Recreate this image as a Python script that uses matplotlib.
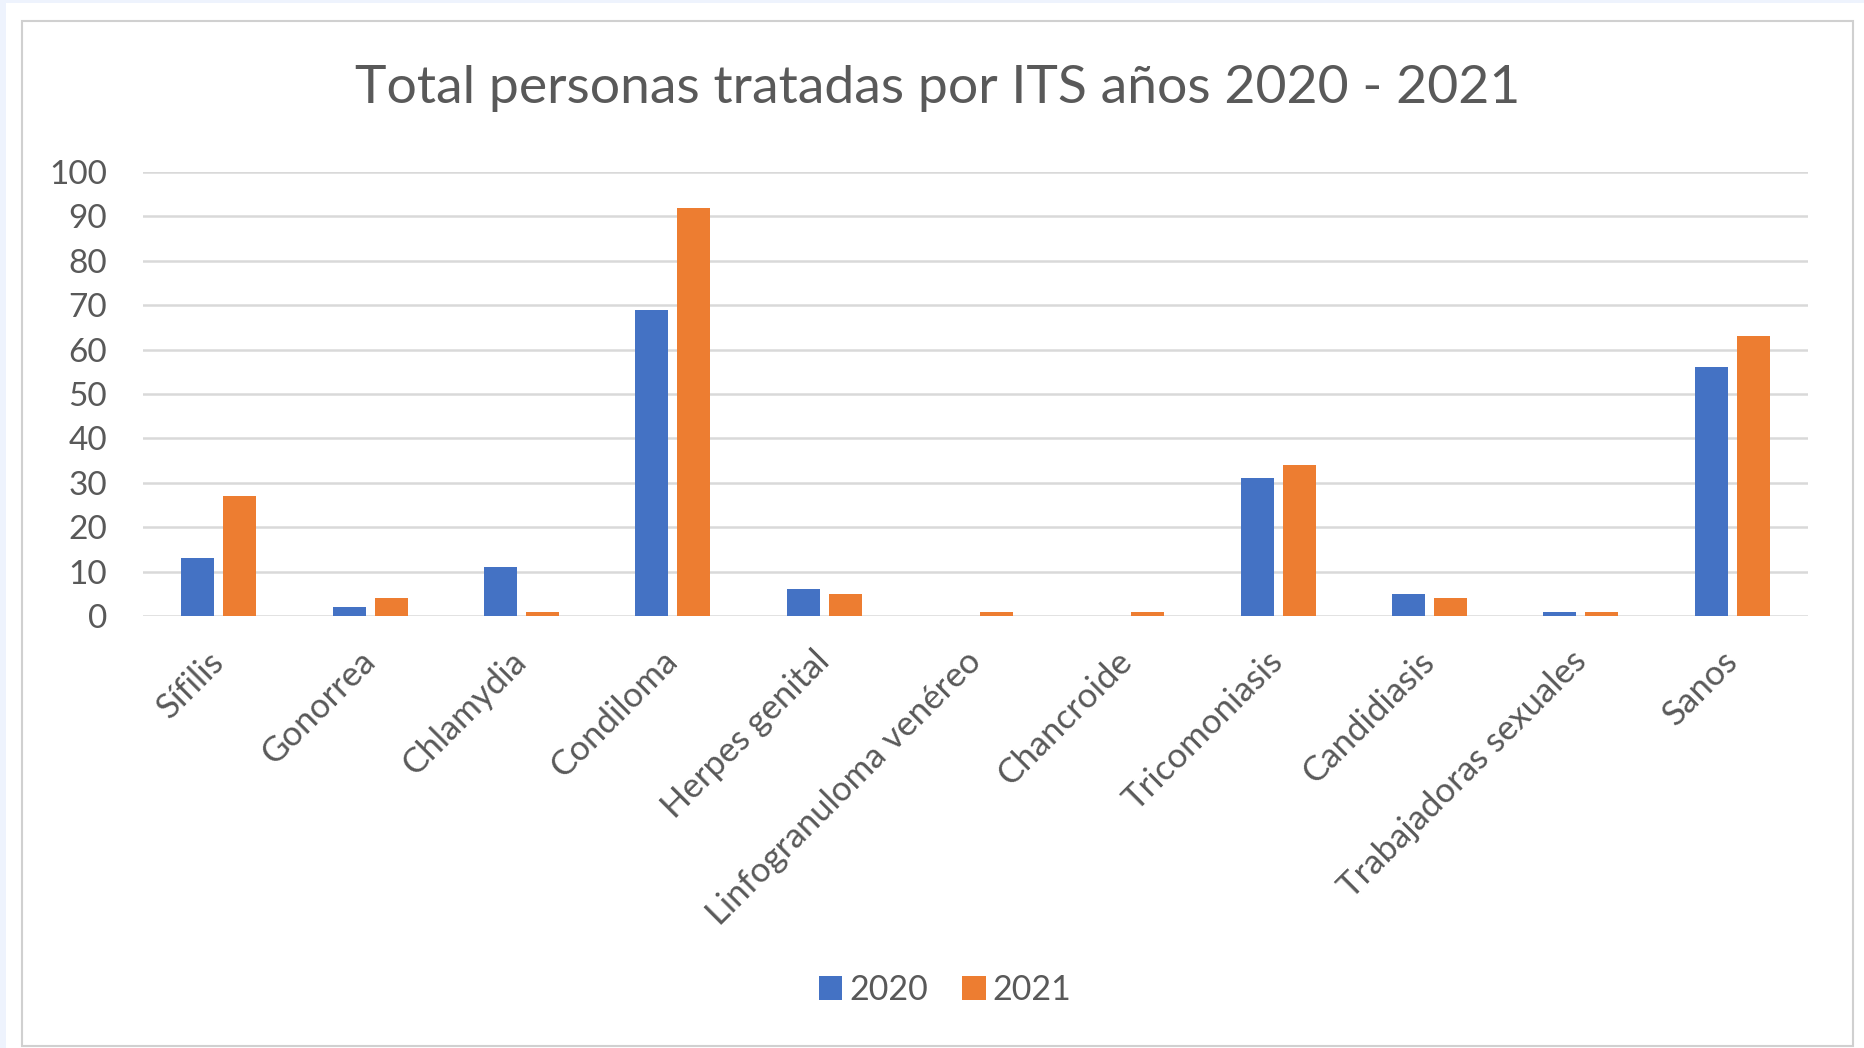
import matplotlib
matplotlib.use("Agg")
import matplotlib.pyplot as plt
from matplotlib.patches import Rectangle
import numpy as np

categories = ["Sífilis", "Gonorrea", "Chlamydia", "Condiloma", "Herpes genital",
              "Linfogranuloma venéreo", "Chancroide", "Tricomoniasis", "Candidiasis",
              "Trabajadoras sexuales", "Sanos"]
values_2020 = [13, 2, 11, 69, 6, 0, 0, 31, 5, 1, 56]
values_2021 = [27, 4, 1, 92, 5, 1, 1, 34, 4, 1, 63]
series_labels = ["2020", "2021"]
y_ticks = [0, 10, 20, 30, 40, 50, 60, 70, 80, 90, 100]

plt.rcParams['font.family'] = ['Lato', 'DejaVu Sans']
TXT = '#595959'
BLUE = '#4472C4'
ORANGE = '#ED7D31'

W, H = 1865, 1048
fig = plt.figure(figsize=(W / 100, H / 100), dpi=100)
fig.patch.set_facecolor('#eef3fd')

# background panel drawn in a back axes
bg = fig.add_axes([0, 0, 1, 1], zorder=-10)
bg.set_xlim(0, W)
bg.set_ylim(H, 0)
bg.axis('off')
bg.add_patch(Rectangle((6, 3), W - 6, H - 3, facecolor='white', edgecolor='none'))
bg.add_patch(Rectangle((22, 21), 1853 - 22, 1046 - 21, facecolor='white',
                       edgecolor='#d0d0d0', linewidth=1.5))

left, right = 143 / W, 1808 / W
bottom, top = 1 - 616 / H, 1 - 172 / H
ax = fig.add_axes([left, bottom, right - left, top - bottom], zorder=1)
ax.set_facecolor('none')

x = np.arange(len(categories))
bw = 0.218
off = 0.139
ax.bar(x - off, values_2020, bw, color=BLUE, label=series_labels[0], zorder=3)
ax.bar(x + off, values_2021, bw, color=ORANGE, label=series_labels[1], zorder=3)

ax.set_xlim(-0.5, len(categories) - 0.5)
ax.set_ylim(0, 100)
ax.set_yticks(y_ticks)
ax.set_yticklabels([str(v) for v in y_ticks])
ax.yaxis.grid(True, color='#d9d9d9', linewidth=1.8, zorder=0)
ax.set_axisbelow(True)
for s in ax.spines.values():
    s.set_visible(False)
ax.tick_params(axis='y', length=0, pad=26, labelsize=24, labelcolor=TXT)
ax.tick_params(axis='x', length=0, pad=29, labelsize=25, labelcolor=TXT)
ax.set_xticks(x)
ax.set_xticklabels(categories, rotation=45, ha='right', va='center', rotation_mode='anchor')

fig.text(938 / W, 1 - 89 / H, "Total personas tratadas por ITS años 2020 - 2021",
         ha='center', va='center', fontsize=38.5, color=TXT)

leg = fig.legend(loc='center', bbox_to_anchor=(945 / W, 1 - 990 / H), ncol=2,
                 frameon=False, fontsize=24.5, handlelength=0.7, handleheight=0.7,
                 handletextpad=0.2, columnspacing=1.0, labelcolor=TXT)

fig.savefig("out.png", dpi=100, facecolor=fig.get_facecolor())
